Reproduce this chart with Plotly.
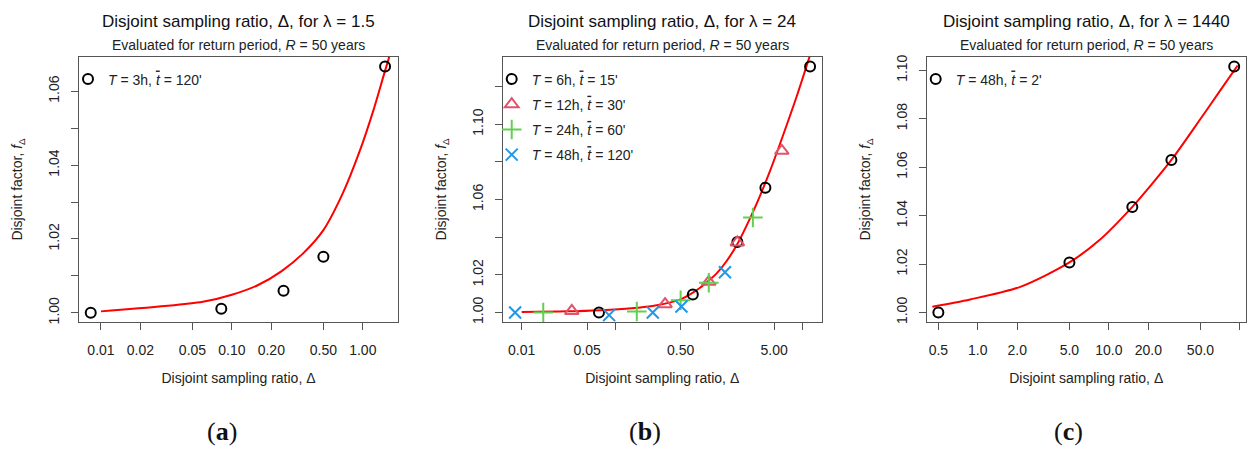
import plotly.graph_objects as go

W, H = 1258, 454

# ---------------- data ----------------
# Panel (a): lambda = 1.5
a_x = [0.00835, 0.083, 0.248, 0.50, 1.48]
a_y = [1.0000, 1.0011, 1.0060, 1.0152, 1.0667]
a_curve_x = [0.01, 0.06, 0.10, 0.16, 0.24, 0.35, 0.50, 0.70, 0.95, 1.20, 1.45, 1.62]
a_curve_y = [1.0004, 1.0030, 1.0049, 1.0076, 1.0113, 1.0161, 1.0224, 1.0322, 1.0439, 1.0546, 1.0645, 1.0702]

# Panel (b): lambda = 24
b6_x = [0.067, 0.675, 2.02, 4.03, 12.1]
b6_y = [1.0000, 1.0096, 1.0374, 1.0663, 1.1307]
b12_x = [0.0343, 0.341, 1.00, 2.02, 6.04]
b12_y = [1.0008, 1.0044, 1.0163, 1.0372, 1.0859]
b24_x = [0.017, 0.17, 0.50, 1.00, 2.96]
b24_y = [1.0000, 1.0005, 1.0065, 1.0158, 1.0505]
b48_x = [0.0085, 0.086, 0.252, 0.51, 1.49]
b48_y = [1.0000, 0.9986, 1.0000, 1.0032, 1.0214]
b_curve_x = [0.01, 0.03, 0.07, 0.15, 0.25, 0.40, 0.50, 0.65, 0.80, 1.00, 1.20, 1.56,
             2.00, 2.50, 3.26, 4.53, 6.28, 8.73, 12.5]
b_curve_y = [1.0003, 1.0006, 1.0012, 1.0022, 1.0034, 1.0055, 1.0070, 1.0100, 1.0130, 1.0170, 1.0205, 1.0275,
             1.0360, 1.0455, 1.0580, 1.0754, 1.0947, 1.1150, 1.1390]

# Panel (c): lambda = 1440
c_x = [0.5, 5.0, 15.1, 30.0, 90.4]
c_y = [1.0000, 1.0207, 1.0436, 1.0630, 1.1016]
c_curve_x = [0.45, 0.874, 2.11, 5.0, 8.53, 15.1, 20.9, 30.0, 50.1, 70.8, 96.0]
c_curve_y = [1.0024, 1.0054, 1.0106, 1.0207, 1.0300, 1.0436, 1.0525, 1.0630, 1.0800, 1.0917, 1.1020]

# ticks (labelled major ticks + unlabelled ticks)
a_xticks = [0.01, 0.02, 0.05, 0.1, 0.2, 0.5, 1.0]
a_xtext = ["0.01", "0.02", "0.05", "0.10", "0.20", "0.50", "1.00"]
a_xminor = []
a_yticks = [1.00, 1.02, 1.04, 1.06]
a_ytext = ["1.00", "1.02", "1.04", "1.06"]
a_yminor = [1.01, 1.03, 1.05]

b_xticks = [0.01, 0.05, 0.5, 5.0]
b_xtext = ["0.01", "0.05", "0.50", "5.00"]
b_xminor = [0.1, 1.0, 10.0]
b_yticks = [1.00, 1.02, 1.06, 1.10]
b_ytext = ["1.00", "1.02", "1.06", "1.10"]
b_yminor = [1.04, 1.08, 1.12]

c_xticks = [0.5, 1, 2, 5, 10, 20, 50]
c_xtext = ["0.5", "1.0", "2.0", "5.0", "10.0", "20.0", "50.0"]
c_xminor = [100]
c_yticks = [1.00, 1.02, 1.04, 1.06, 1.08, 1.10]
c_ytext = ["1.00", "1.02", "1.04", "1.06", "1.08", "1.10"]
c_yminor = []

titles = ["Disjoint sampling ratio, Δ, for λ = 1.5",
          "Disjoint sampling ratio, Δ, for λ = 24",
          "Disjoint sampling ratio, Δ, for λ = 1440"]
subtitle = "Evaluated for return period, <i>R</i> = 50 years"
xlabel = "Disjoint sampling ratio, Δ"
ylabel = "Disjoint factor, <i>f</i><sub>Δ</sub>"
panel_labels = ["(<b>a</b>)", "(<b>b</b>)", "(<b>c</b>)"]

TB = "<span style='text-decoration:overline'><i>t</i></span>"
EQ = " = "
leg_a = ["<i>T</i>" + EQ + "3h, " + TB + EQ + "120'"]
leg_b = ["<i>T</i>" + EQ + "6h, " + TB + EQ + "15'", "<i>T</i>" + EQ + "12h, " + TB + EQ + "30'",
         "<i>T</i>" + EQ + "24h, " + TB + EQ + "60'", "<i>T</i>" + EQ + "48h, " + TB + EQ + "120'"]
leg_c = ["<i>T</i>" + EQ + "48h, " + TB + EQ + "2'"]

# ---------------- layout geometry (pixels) ----------------
boxes = [(79, 398), (502.7, 821.7), (926.7, 1245.7)]
box_top, box_bot = 55, 323.3
xranges = [[-2.168, 0.269], [-2.203, 1.207], [-0.390, 2.044]]
yranges = [[0.9974, 1.0694], [0.9947, 1.136], [0.9959, 1.1057]]

def px(x):
    return x / W

def py(y):
    return 1 - y / H

FONT = "Liberation Sans, Arial, sans-serif"
AX = "#555555"
TXT = "#222222"

fig = go.Figure()

BLACK = "#000000"
PINK = "#DF536B"
GREEN = "#61D04F"
BLUE = "#2297E6"
RED = "#FF0000"

def curve(xs, ys, xa, ya):
    return go.Scatter(x=xs, y=ys, mode="lines", line=dict(color=RED, width=2, shape="spline", smoothing=0.8),
                      xaxis=xa, yaxis=ya, showlegend=False, hoverinfo="skip")

def pts(name, xs, ys, xa, ya, leg, symbol, size, color, grp):
    return go.Scatter(x=xs, y=ys, mode="markers", name=name, xaxis=xa, yaxis=ya, legend=leg, legendgroup=grp,
                      marker=dict(symbol=symbol, size=size, color=color, line=dict(width=2, color=color)),
                      cliponaxis=False)

# panel a
fig.add_trace(curve(a_curve_x, a_curve_y, "x", "y"))
fig.add_trace(pts(leg_a[0], a_x, a_y, "x", "y", "legend", "circle-open", 10, BLACK, "a1"))

# panel b
fig.add_trace(curve(b_curve_x, b_curve_y, "x2", "y2"))
fig.add_trace(pts(leg_b[0], b6_x, b6_y, "x2", "y2", "legend2", "circle-open", 10, BLACK, "b1"))
fig.add_trace(pts(leg_b[1], b12_x, b12_y, "x2", "y2", "legend2", "triangle-up-open", 12, PINK, "b2"))
fig.add_trace(pts(leg_b[2], b24_x, b24_y, "x2", "y2", "legend2", "cross-thin-open", 14, GREEN, "b3"))
fig.add_trace(pts(leg_b[3], b48_x, b48_y, "x2", "y2", "legend2", "x-thin-open", 12, BLUE, "b4"))

# panel c
fig.add_trace(curve(c_curve_x, c_curve_y, "x3", "y3"))
fig.add_trace(pts(leg_c[0], c_x, c_y, "x3", "y3", "legend3", "circle-open", 10, BLACK, "c1"))

xt = [(a_xticks, a_xtext, a_xminor), (b_xticks, b_xtext, b_xminor), (c_xticks, c_xtext, c_xminor)]
yt = [(a_yticks, a_ytext, a_yminor), (b_yticks, b_ytext, b_yminor), (c_yticks, c_ytext, c_yminor)]

layout = dict(width=W, height=H, margin=dict(l=0, r=0, t=0, b=0),
              paper_bgcolor="white", plot_bgcolor="white",
              font=dict(family=FONT, color=TXT, size=14))
annotations = []
for i in range(3):
    sfx = "" if i == 0 else str(i + 1)
    l, r = boxes[i]
    layout["xaxis" + sfx] = dict(
        type="log", range=xranges[i], domain=[px(l), px(r)], anchor="y" + sfx,
        tickmode="array", tickvals=xt[i][0], ticktext=xt[i][1],
        ticks="outside", ticklen=7, tickwidth=1, tickcolor=AX,
        minor=dict(tickmode="array", tickvals=xt[i][2], ticks="outside", ticklen=7, tickwidth=1,
                   tickcolor=AX, showgrid=False),
        showline=True, linecolor=AX, linewidth=1, mirror=True, showgrid=False, zeroline=False,
        tickfont=dict(size=14, color=TXT), ticklabelstandoff=8,
        title=dict(text=xlabel, font=dict(size=14, color=TXT, family=FONT), standoff=15))
    layout["yaxis" + sfx] = dict(
        range=yranges[i], domain=[py(box_bot), py(box_top)], anchor="x" + sfx,
        tickmode="array", tickvals=yt[i][0], ticktext=yt[i][1],
        ticks="outside", ticklen=7, tickwidth=1, tickcolor=AX,
        minor=dict(tickmode="array", tickvals=yt[i][2], ticks="outside", ticklen=7, tickwidth=1,
                   tickcolor=AX, showgrid=False),
        showline=True, linecolor=AX, linewidth=1, mirror=True, showgrid=False, zeroline=False,
        tickangle=-90, tickfont=dict(size=14, color=TXT), ticklabelstandoff=6,
        title=dict(text=ylabel, font=dict(size=14, color=TXT, family=FONT), standoff=20))
    cx = (l + r) / 2
    annotations.append(dict(text=titles[i], x=px(cx), y=py(20), xref="paper", yref="paper",
                            showarrow=False, xanchor="center", yanchor="middle",
                            font=dict(size=17, color="#111111", family=FONT)))
    annotations.append(dict(text=subtitle, x=px(cx), y=py(43), xref="paper", yref="paper",
                            showarrow=False, xanchor="center", yanchor="middle",
                            font=dict(size=14, color=TXT, family=FONT)))
panel_cx = [221.7, 645, 1068]
for i in range(3):
    annotations.append(dict(text=panel_labels[i], x=px(panel_cx[i]), y=py(433), xref="paper", yref="paper",
                            showarrow=False, xanchor="center", yanchor="middle",
                            font=dict(size=26, color="#111111", family="Liberation Serif, serif")))
layout["annotations"] = annotations

leg_common = dict(xref="paper", yref="paper", xanchor="left", yanchor="top",
                  bgcolor="rgba(0,0,0,0)", borderwidth=0, font=dict(size=14, color=TXT, family=FONT),
                  itemsizing="trace", tracegroupgap=4)
layout["legend"] = dict(x=px(boxes[0][0] - 11), y=py(box_top + 7), **leg_common)
layout["legend2"] = dict(x=px(boxes[1][0] - 11), y=py(box_top + 7), **leg_common)
layout["legend3"] = dict(x=px(boxes[2][0] - 11), y=py(box_top + 7), **leg_common)
layout["showlegend"] = True
layout["hovermode"] = False

fig.update_layout(**layout)
fig.write_html("out.html")
